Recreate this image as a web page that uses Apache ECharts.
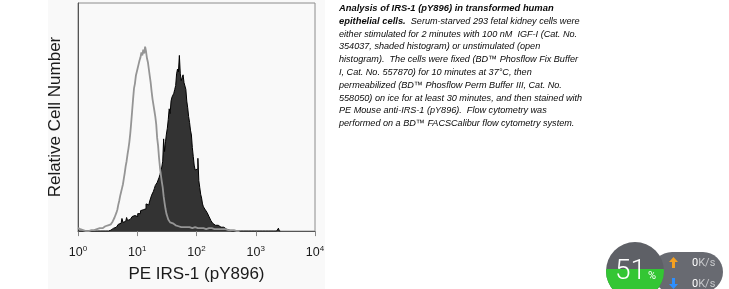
<!DOCTYPE html>
<html>
<head>
<meta charset="utf-8">
<script src="https://cdn.jsdelivr.net/npm/echarts@6/dist/echarts.min.js"></script>
<style>
  html, body { margin: 0; padding: 0; background: #ffffff; }
  body { width: 729px; height: 289px; position: relative; overflow: hidden; }
  #panel { position: absolute; left: 48px; top: 0; width: 277px; height: 289px; background: #f9f9f9; }
  #chart { position: absolute; left: 0; top: 0; width: 729px; height: 289px; }
  #caption { position: absolute; left: 339px; top: 2px; font-family: "Liberation Sans", Arial, sans-serif;
             font-style: italic; font-size: 9.1px; line-height: 12.8px; color: #0a0a0a; white-space: pre; }
  #caption b { font-weight: bold; font-size: 9.4px; }
  #pill { position: absolute; left: 652px; top: 252px; width: 71px; height: 40px; border-radius: 20px; background: #686a71; }
  #ring { position: absolute; left: 606px; top: 242px; width: 58px; height: 58px; border-radius: 50%; background: #5e6066; overflow: hidden; }
  #ring .fill { position: absolute; left: 0; top: 27px; width: 58px; height: 40px; background: #34c634; }
  #pct { position: absolute; left: 615px; top: 255px; font-family: Roboto, "Liberation Sans", sans-serif; font-weight: 300; color: #fff; font-size: 28px; line-height: 30px; }
  #pct span { font-size: 11px; font-weight: 400; margin-left: 2px; }
  .rate { position: absolute; left: 692px; font-family: Roboto, "Liberation Sans", sans-serif; font-size: 11px; line-height: 12px; color: #fff; white-space: pre; }
  .rate .u { color: #c8c9cc; }
  .arrow { position: absolute; left: 669px; width: 9px; height: 11px; }
</style>
</head>
<body>
<div id="panel"></div>
<div id="chart"></div>
<div id="caption"><b>Analysis of IRS-1 (pY896) in transformed human</b>
<b>epithelial cells.</b>  Serum-starved 293 fetal kidney cells were
either stimulated for 2 minutes with 100 nM  IGF-I (Cat. No.
354037, shaded histogram) or unstimulated (open
histogram).  The cells were fixed (BD™ Phosflow Fix Buffer
I, Cat. No. 557870) for 10 minutes at 37°C, then
permeabilized (BD™ Phosflow Perm Buffer III, Cat. No.
558050) on ice for at least 30 minutes, and then stained with
PE Mouse anti-IRS-1 (pY896).  Flow cytometry was
performed on a BD™ FACSCalibur flow cytometry system.</div>
<div id="pill"></div>
<div id="ring"><div class="fill"></div></div>
<div id="pct">51<span>%</span></div>
<svg class="arrow" style="top:257px" viewBox="0 0 9 11"><path d="M4.5 0 L9 5 L6 5 L6 11 L3 11 L3 5 L0 5 Z" fill="#f5a020"/></svg>
<svg class="arrow" style="top:278px" viewBox="0 0 9 11"><path d="M4.5 11 L9 6 L6 6 L6 0 L3 0 L3 6 L0 6 Z" fill="#2d8fff"/></svg>
<div class="rate" style="top:257px">0<span class="u">K/s</span></div>
<div class="rate" style="top:278px">0<span class="u">K/s</span></div>
<script>
// FACS histogram: 256 channels over 4 decades (64 channels per decade)
const channelsPerDecade = 64;
const decadeTicks = [0, 1, 2, 3, 4];           // tick labels 10^0 ... 10^4
const firstChannel = 0;

// Unstimulated (open histogram), counts per channel starting at channel 0
const unstimulatedCounts = [
  3,3,2,3,2,1,1,0,0,0,
  1,0,1,1,1,1,1,1,2,1,
  2,2,3,3,3,4,3,4,4,5,
  4,5,6,6,7,7,8,9,10,11,
  14,16,19,22,27,31,36,40,44,48,
  54,60,67,72,79,85,92,101,112,124,
  136,147,152,160,162,168,172,176,179,184,
  181,187,183,190,185,178,174,167,160,153,
  144,136,130,124,118,110,96,88,76,66,
  58,51,45,36,29,23,18,15,12,10,
  9,9,8,7,7,6,6,6,5,5,
  5,4,5,4,4,4,4,4,3,4,
  4,3,4,3,3,3,4,3,3,3,
  3,3,3,3,2,3,3,3,2,3,
  2,3,2,2,3,2,2,2,2,2,
  2,2,1,2,2,1,2,1,1,2,
  1,1,1,1,1,1,1,0,1,0,
  0,0,0,0,0,0
];

// IGF-I stimulated (shaded histogram), counts per channel starting at channel 0
const stimulatedCounts = [
  0,0,0,0,0,0,0,0,0,0,
  0,0,0,0,0,0,0,0,0,0,
  0,0,0,0,0,0,0,0,0,0,
  0,0,0,0,1,1,2,3,3,4,
  5,4,6,5,7,6,8,10,13,9,
  11,10,12,14,11,13,12,14,13,15,
  14,16,15,17,15,18,20,18,21,20,
  22,21,24,23,28,26,27,29,31,34,
  37,36,41,44,47,48,50,52,55,58,
  62,66,72,95,82,92,100,106,115,126,
  121,134,138,137,142,146,150,162,167,164,
  181,162,155,158,161,153,151,146,134,127,
  118,112,104,99,86,77,68,63,61,64,
  75,52,45,38,34,28,25,24,22,21,
  19,18,15,13,11,9,8,7,6,5,
  5,6,5,5,4,4,3,4,3,3,
  2,2,2,1,1,0,0,0,0,0,
  0,0,0,0,0,0,0,0,0,0,
  0,0,0,0,0,0,0,0,0,0,
  0,0,0,0,0,0,0,0,0,0,
  0,0,0,0,0,0,0,0,0,0,
  0,0,0,0,0,0,0,3,0,0
];

const xTitle = 'PE IRS-1 (pY896)';
const yTitle = 'Relative Cell Number';

const toPairs = arr => arr.map((v, i) => [firstChannel + i, v]);
const font = '"Liberation Sans", Arial, sans-serif';

const chart = echarts.init(document.getElementById('chart'), null, { renderer: 'canvas' });
chart.setOption({
  backgroundColor: 'transparent',
  animation: false,
  grid: { left: 78, top: 3, width: 237, height: 235, show: true, borderColor: '#8c8c8c', borderWidth: 1, backgroundColor: 'transparent' },
  xAxis: {
    type: 'value', min: 0, max: 4 * channelsPerDecade, interval: channelsPerDecade,
    name: xTitle, nameLocation: 'middle', nameGap: 32,
    nameTextStyle: { fontFamily: font, fontSize: 17, color: '#1a1a1a', lineHeight: 20, verticalAlign: 'top' },
    axisLine: { show: true, lineStyle: { color: '#555', width: 1 } },
    axisTick: { show: true, length: 5, lineStyle: { color: '#888' } },
    splitLine: { show: false },
    axisLabel: {
      margin: 14,
      formatter: v => '{b|10}{s|' + decadeTicks[Math.round(v / channelsPerDecade)] + '}',
      rich: {
        b: { fontFamily: font, fontSize: 12.5, color: '#1a1a1a', lineHeight: 14 },
        s: { fontFamily: font, fontSize: 8, color: '#1a1a1a', lineHeight: 14, verticalAlign: 'top', padding: [0, 0, 6, 0] }
      }
    }
  },
  yAxis: {
    type: 'value', min: 0, max: 235,
    name: yTitle, nameLocation: 'middle', nameGap: 14,
    nameTextStyle: { fontFamily: font, fontSize: 17, color: '#1a1a1a' },
    axisLine: { show: true, lineStyle: { color: '#555', width: 1 } },
    axisTick: { show: false }, axisLabel: { show: false }, splitLine: { show: false }
  },
  series: [
    {
      name: 'IGF-I stimulated', type: 'line', step: 'middle', symbol: 'none',
      data: toPairs(stimulatedCounts),
      lineStyle: { color: '#000', width: 1 },
      areaStyle: { color: '#333333', opacity: 1 },
      z: 2
    },
    {
      name: 'Unstimulated', type: 'line', step: 'middle', symbol: 'none',
      data: toPairs(unstimulatedCounts),
      lineStyle: { color: '#959595', width: 1.8 },
      z: 3
    }
  ]
});
</script>
</body>
</html>
